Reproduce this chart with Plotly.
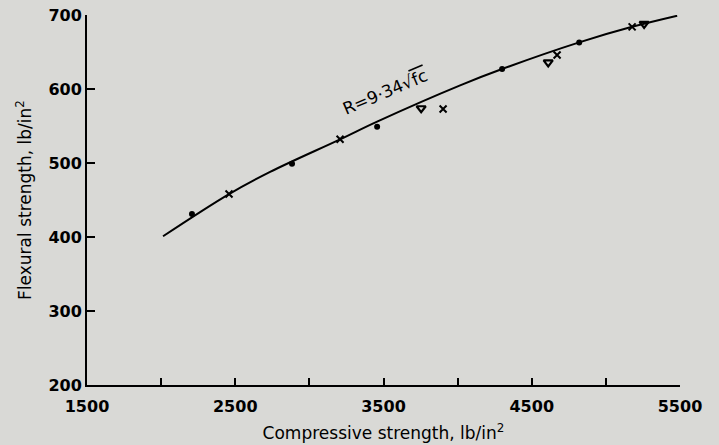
import plotly.graph_objects as go

# Fitted curve R = 9.34 sqrt(fc)
curve_fc = [2013, 2458, 2735, 3207, 3457, 4017, 4300, 4820, 5177, 5481]
curve_R = [401, 458, 488, 532, 556, 605, 627, 663, 684, 699]

# Experimental points
dots_fc = [2208, 2883, 3457, 4300, 4820]
dots_R = [431, 499, 549, 627, 663]
cross_fc = [2458, 3207, 3902, 4671, 5177]
cross_R = [458, 532, 573, 646, 684]
tri_fc = [3754, 4611, 5258]
tri_R = [574, 636, 688]

x_ticks = [1500, 2500, 3500, 4500, 5500]
y_ticks = [200, 300, 400, 500, 600, 700]

FONT = "DejaVu Sans"
BG = "#d9d9d6"

fig = go.Figure()
fig.add_trace(go.Scatter(x=curve_fc, y=curve_R, mode="lines",
                         line=dict(color="black", width=2, shape="spline", smoothing=1.0),
                         hoverinfo="skip", showlegend=False))
fig.add_trace(go.Scatter(x=dots_fc, y=dots_R, mode="markers",
                         marker=dict(symbol="circle", size=6, color="black"),
                         showlegend=False))
fig.add_trace(go.Scatter(x=cross_fc, y=cross_R, mode="markers",
                         marker=dict(symbol="x-thin", size=7, color="black",
                                     line=dict(color="black", width=2)),
                         showlegend=False))
fig.add_trace(go.Scatter(x=tri_fc, y=tri_R, mode="markers",
                         marker=dict(symbol="triangle-down-open", size=8, color="black",
                                     line=dict(color="black", width=2.2)),
                         showlegend=False))

fig.add_annotation(x=3510, y=596, text="R=9·34√<span style='text-decoration:overline'>fc</span>",
                   showarrow=False, textangle=-23,
                   font=dict(family=FONT, size=17, color="black"))

fig.update_layout(
    width=719, height=445,
    margin=dict(l=87, r=39, t=15, b=60),
    paper_bgcolor=BG, plot_bgcolor=BG,
    font=dict(family=FONT, color="black"),
    xaxis=dict(range=[1500, 5500], tickvals=x_ticks, ticktext=[str(v) for v in x_ticks],
               ticks="inside", ticklen=7, tickwidth=1.5, tickcolor="black",
               minor=dict(dtick=500, tick0=1500, ticks="inside", ticklen=7, tickwidth=1.5, tickcolor="black"),
               showline=True, linecolor="black", linewidth=2, showgrid=False, zeroline=False,
               automargin=False, ticklabelstandoff=6,
               tickfont=dict(size=16, family=FONT, weight="bold"),
               title=dict(text="Compressive strength, lb/in<sup>2</sup>",
                          font=dict(size=17), standoff=12)),
    yaxis=dict(range=[200, 700], tickvals=y_ticks, ticktext=[str(v) for v in y_ticks],
               ticks="inside", ticklen=8, tickwidth=1.5, tickcolor="black",
               showline=True, linecolor="black", linewidth=2, showgrid=False, zeroline=False,
               automargin=False,
               tickfont=dict(size=16, family=FONT, weight="bold"),
               title=dict(text="Flexural strength, lb/in<sup>2</sup>",
                          font=dict(size=17), standoff=12)),
)

fig.write_html("out.html")
